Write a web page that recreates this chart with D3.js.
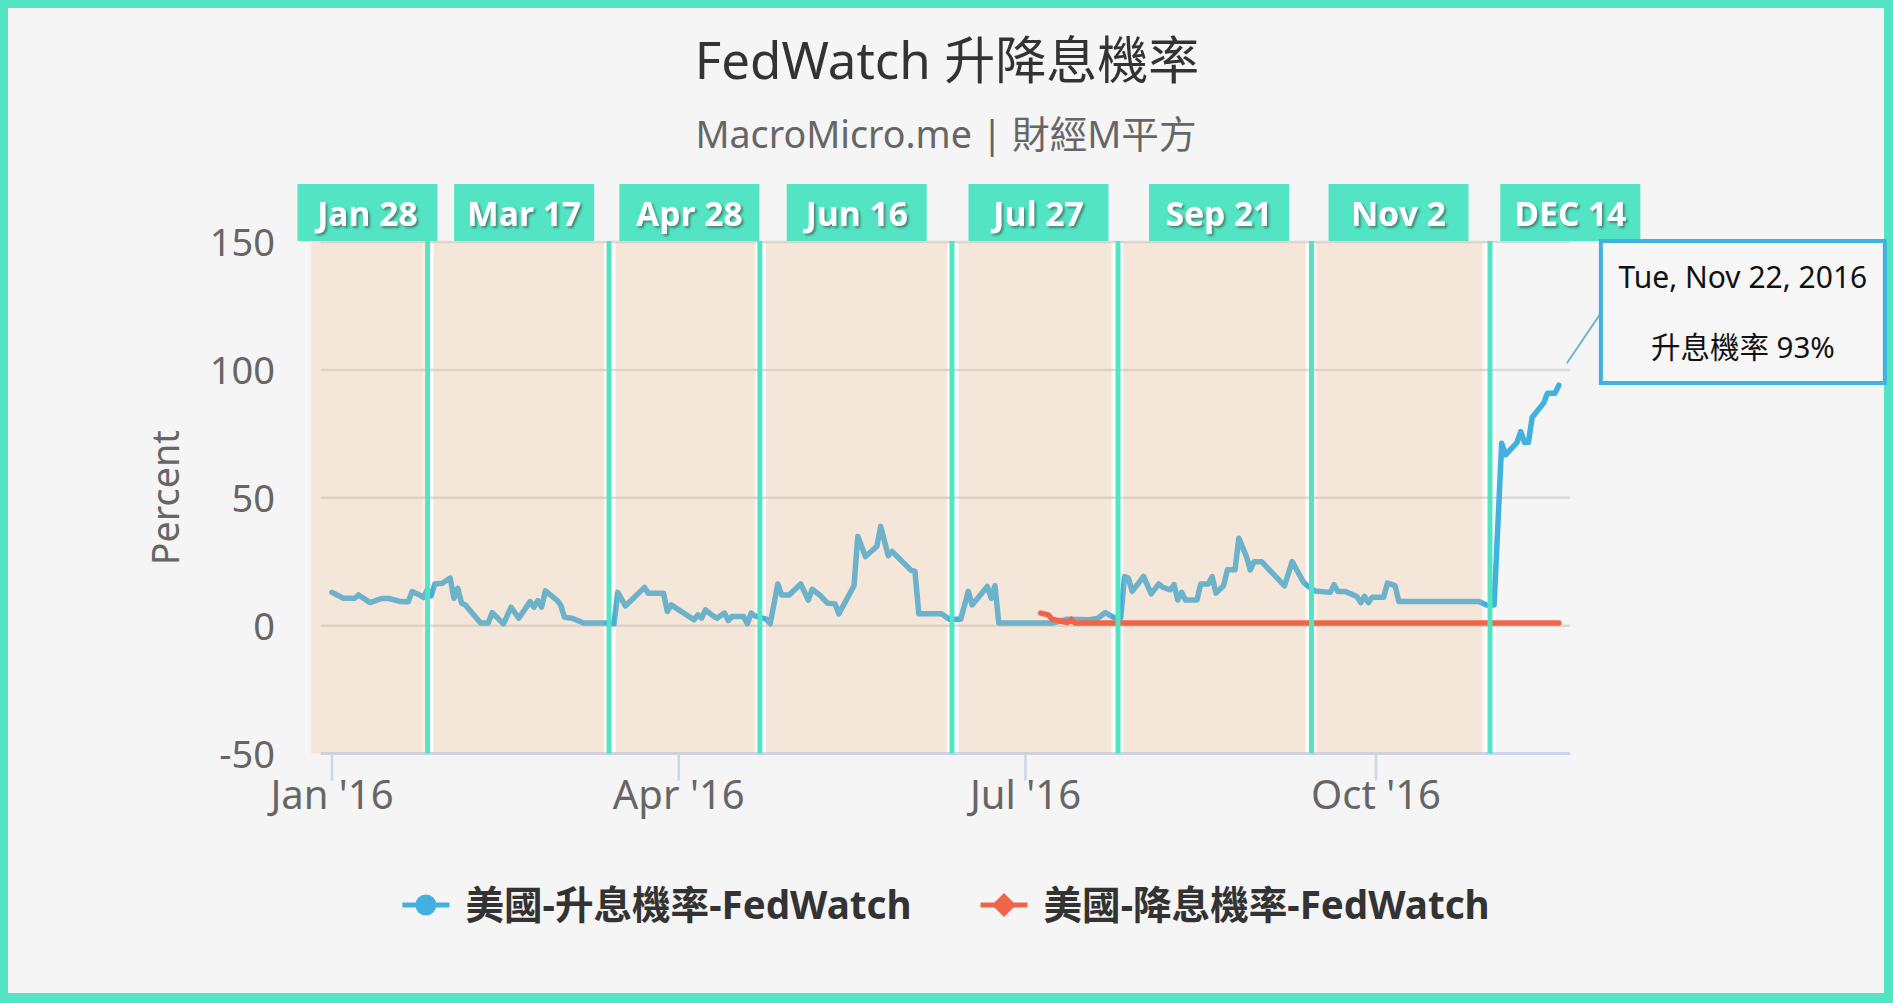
<!DOCTYPE html>
<html><head><meta charset="utf-8">
<script src="https://cdn.jsdelivr.net/npm/d3@7"></script>
<style>
html,body{margin:0;padding:0;background:#f5f5f5;overflow:hidden;}
svg{display:block;}
</style></head>
<body>
<svg id="chart" width="1893" height="1003"></svg>
<script>
// ---------------- DATA ----------------
const titleText = "FedWatch 升降息機率";
const subtitleText = "MacroMicro.me | 財經M平方";
const yAxisTitle = "Percent";

const upDates = [
 "2016-01-01","2016-01-04","2016-01-07","2016-01-08","2016-01-11","2016-01-14","2016-01-16","2016-01-19","2016-01-21","2016-01-22","2016-01-24","2016-01-25","2016-01-26","2016-01-27","2016-01-28","2016-01-30",
 "2016-02-01","2016-02-02","2016-02-03","2016-02-04","2016-02-05","2016-02-09","2016-02-11","2016-02-12","2016-02-15","2016-02-17","2016-02-19","2016-02-22","2016-02-23","2016-02-24","2016-02-25","2016-02-26","2016-02-29",
 "2016-03-01","2016-03-02","2016-03-04","2016-03-07","2016-03-13","2016-03-15","2016-03-16","2016-03-18","2016-03-23","2016-03-24","2016-03-28","2016-03-29","2016-03-30",
 "2016-04-05","2016-04-06","2016-04-07","2016-04-08","2016-04-10","2016-04-11","2016-04-13","2016-04-14","2016-04-15","2016-04-18","2016-04-19","2016-04-20","2016-04-21","2016-04-24","2016-04-25","2016-04-27","2016-04-28","2016-04-30",
 "2016-05-03","2016-05-05","2016-05-06","2016-05-08","2016-05-10","2016-05-12","2016-05-13","2016-05-17","2016-05-18","2016-05-20","2016-05-23","2016-05-24","2016-05-26","2016-05-27",
 "2016-06-01","2016-06-02","2016-06-03","2016-06-09","2016-06-11","2016-06-14","2016-06-16","2016-06-17","2016-06-21","2016-06-22","2016-06-23","2016-06-24",
 "2016-07-08","2016-07-12","2016-07-18","2016-07-20","2016-07-22","2016-07-24","2016-07-26","2016-07-27","2016-07-28","2016-07-29",
 "2016-08-01","2016-08-03","2016-08-05","2016-08-06","2016-08-08","2016-08-09","2016-08-10","2016-08-11","2016-08-12","2016-08-15","2016-08-16","2016-08-18","2016-08-19","2016-08-20","2016-08-22","2016-08-23","2016-08-25","2016-08-26","2016-08-28","2016-08-29","2016-08-30",
 "2016-09-01","2016-09-03","2016-09-07","2016-09-09","2016-09-12","2016-09-13","2016-09-15","2016-09-19","2016-09-20","2016-09-21","2016-09-23","2016-09-26","2016-09-27","2016-09-28","2016-09-29","2016-09-30",
 "2016-10-03","2016-10-04","2016-10-06","2016-10-07","2016-10-28","2016-10-30",
 "2016-11-01","2016-11-03","2016-11-04","2016-11-07","2016-11-08","2016-11-09","2016-11-10","2016-11-11","2016-11-14","2016-11-15","2016-11-17","2016-11-18"
];
const upValues = [
 13,10.7,10.7,12,9,10.6,10.6,9.4,9.3,13.3,12,11,14,11.6,16.3,16.6,
 18.6,10.7,14.6,8.8,8.1,1,1,5.1,0.7,7.2,2.9,9.4,7.2,9.8,7.2,13.6,10,
 8.1,3.3,2.9,1,1,0.7,13,7.7,14.9,12.7,12.7,5.5,8.1,
 2.3,4.2,2.9,6.2,3.8,2.9,4.9,2,3.6,3.6,0.7,4.9,3.8,2.5,0.7,16.3,12,12,
 16.3,10,14.2,12,8.8,8.5,4.6,15.6,34.9,27,31,38.8,27.3,29,
 21.6,21.2,4.6,4.6,2.5,2.5,13.4,8.1,15.3,10.7,15.6,1,
 1,2.5,2.3,2.9,5.1,3.3,2.9,19.2,18.6,13.4,
 19.2,12.4,16.3,15,14,16,10,13,10,10,16.3,16.3,19.2,12.7,15.6,21.8,21.8,34.2,27,21.8,25,
 25,21.8,15.6,25,16.9,15.6,13.5,13,16,13.3,13.3,11.4,9,11.4,9,11.1,
 11.1,16.6,15.6,9.4,9.4,8.1,
 8.1,71.3,66.8,71.6,75.9,71.6,71.6,81.5,87,90.9,90.9,94
];

const downDates = ["2016-07-05","2016-07-07","2016-07-08","2016-07-12","2016-07-13","2016-07-14","2016-08-01","2016-09-01","2016-10-03","2016-11-01","2016-11-18"];
const downValues = [4.9,4.2,2.5,1.2,2.5,1,1,1,1,1,1];

const seriesNames = ["美國-升息機率-FedWatch","美國-降息機率-FedWatch"];

// FOMC annotations
const meetingLabels = ["Jan 28","Mar 17","Apr 28","Jun 16","Jul 27","Sep 21","Nov 2","DEC 14"];
const labelCenterDates = ["2016-01-10T07:00Z","2016-02-20T10:00Z","2016-04-03T19:00Z","2016-05-17T17:00Z","2016-07-04T10:00Z","2016-08-20T19:00Z","2016-10-06T22:00Z","2016-11-21T00:00Z"];
const meetingLineDates = ["2016-01-26T02:00Z","2016-03-13T17:00Z","2016-04-22T07:00Z","2016-06-11T17:00Z","2016-07-25T07:00Z","2016-09-14T02:00Z","2016-10-30T22:00Z"];
const bandStarts = ["2015-12-26T12:00Z","2016-01-27T17:00Z","2016-03-15T12:00Z","2016-04-23T22:00Z","2016-06-13T14:00Z","2016-07-26T14:00Z","2016-09-15T00:00Z"];
const bandEnds   = ["2016-01-25T10:00Z","2016-03-12T12:00Z","2016-04-21T07:00Z","2016-06-10T14:00Z","2016-07-23T12:00Z","2016-09-12T10:00Z","2016-10-28T19:00Z"];

const yTicks = [150,100,50,0,-50];
const xTickDates = ["2016-01-01","2016-04-01","2016-07-01","2016-10-01"];
const xTickLabels = ["Jan '16","Apr '16","Jul '16","Oct '16"];
const xDomain = ["2015-12-29T00:00Z","2016-11-21T00:00Z"];

const tooltipDate = "Tue, Nov 22, 2016";
const tooltipLabel = "升息機率";
const tooltipValue = 93;

// ---------------- STYLE ----------------
const W = 1893, H = 1003;
const teal = "#52e4c3", blue = "#41b1e0", red = "#f0654a";
const latin = "'Noto Sans','Noto Sans CJK TC',sans-serif";

const parseDay = d3.utcParse("%Y-%m-%d");
const svg = d3.select("#chart");

// background + border
svg.append("rect").attr("width",W).attr("height",H).attr("fill",teal);
svg.append("rect").attr("x",8).attr("y",8).attr("width",W-17).attr("height",H-18).attr("fill","#f5f5f5");

const defs = svg.append("defs");
const f = defs.append("filter").attr("id","shadow").attr("x","-20%").attr("y","-20%").attr("width","140%").attr("height","140%");
f.append("feDropShadow").attr("dx",2).attr("dy",2).attr("stdDeviation",1).attr("flood-color","#3a3a3a").attr("flood-opacity",0.55);

// scales
const x = d3.scaleUtc().domain(xDomain.map(d=>d3.isoParse(d))).range([320.6,1570.3]);
const y = d3.scaleLinear().domain([-50,150]).range([753.5,242]);
const plotL = x.range()[0], plotR = x.range()[1];

// title
svg.append("text").attr("x",947).attr("y",79).attr("text-anchor","middle")
  .attr("font-family",latin).attr("font-size",51).attr("fill","#333").text(titleText);
svg.append("text").attr("x",946).attr("y",148).attr("text-anchor","middle")
  .attr("font-family",latin).attr("font-size",37.6).attr("fill","#666").text(subtitleText);

// white strips behind meeting lines
const lineDates = meetingLineDates.map(d=>d3.isoParse(d));
svg.append("g").selectAll("line").data(lineDates).join("line")
  .attr("x1",d=>x(d)).attr("x2",d=>x(d)).attr("y1",y(150)).attr("y2",y(-50))
  .attr("stroke","#ffffff").attr("stroke-width",11);

// gridlines
svg.append("g").selectAll("line").data(yTicks).join("line")
  .attr("x1",plotL).attr("x2",plotR).attr("y1",d=>y(d)).attr("y2",d=>y(d))
  .attr("stroke",d=>d===-50?"#ccd6eb":"#dadada").attr("stroke-width",d=>d===-50?3:2.5);

// x ticks
const xt = xTickDates.map(parseDay);
svg.append("g").selectAll("line").data(xt).join("line")
  .attr("x1",d=>x(d)).attr("x2",d=>x(d)).attr("y1",y(-50)).attr("y2",y(-50)+27)
  .attr("stroke","#ccd6eb").attr("stroke-width",2.5);
svg.append("g").selectAll("text").data(xt).join("text")
  .attr("x",d=>x(d)).attr("y",809).attr("text-anchor","middle")
  .attr("font-family",latin).attr("font-size",40).attr("fill","#666")
  .text((d,i)=>xTickLabels[i]);

// y labels
svg.append("g").selectAll("text").data(yTicks).join("text")
  .attr("x",275).attr("y",d=>y(d)+14).attr("text-anchor","end")
  .attr("font-family",latin).attr("font-size",38).attr("fill","#666").text(d=>d);
svg.append("text").attr("transform",`translate(179,${(y(150)+y(-50))/2}) rotate(-90)`)
  .attr("text-anchor","middle").attr("font-family",latin).attr("font-size",37.7).attr("fill","#666").text(yAxisTitle);

// blue line (under bands)
const upData = upDates.map((d,i)=>({d:parseDay(d),v:upValues[i]}));
const downData = downDates.map((d,i)=>({d:parseDay(d),v:downValues[i]}));
const lineGen = d3.line().x(p=>x(p.d)).y(p=>y(p.v));
svg.append("path").datum(upData).attr("d",lineGen).attr("fill","none")
  .attr("stroke",blue).attr("stroke-width",5.5).attr("stroke-linejoin","round").attr("stroke-linecap","round");

// bands overlay
svg.append("g").selectAll("rect").data(bandStarts.map((s,i)=>[d3.isoParse(s),d3.isoParse(bandEnds[i])])).join("rect")
  .attr("x",d=>x(d[0])).attr("width",d=>x(d[1])-x(d[0]))
  .attr("y",y(150)).attr("height",y(-50)-y(150))
  .attr("fill","rgb(245,180,128)").attr("fill-opacity",0.23);

// red line
svg.append("path").datum(downData).attr("d",lineGen).attr("fill","none")
  .attr("stroke",red).attr("stroke-width",5.5).attr("stroke-linejoin","round").attr("stroke-linecap","round");

// meeting lines
svg.append("g").selectAll("line").data(lineDates).join("line")
  .attr("x1",d=>x(d)).attr("x2",d=>x(d)).attr("y1",y(150)-1).attr("y2",y(-50))
  .attr("stroke",teal).attr("stroke-width",5);

// meeting labels
const lg = svg.append("g").selectAll("g").data(meetingLabels).join("g")
  .attr("transform",(d,i)=>`translate(${x(d3.isoParse(labelCenterDates[i]))},0)`);
lg.append("rect").attr("x",-70).attr("width",140).attr("y",184).attr("height",y(150)-185).attr("fill",teal);
lg.append("text").attr("y",226).attr("text-anchor","middle")
  .attr("font-family","'Open Sans',sans-serif").attr("font-weight",700).attr("font-size",33.5)
  .attr("fill","#fff").attr("filter","url(#shadow)").text(d=>d);

// tooltip
const last = upData[upData.length-1];
const lx = x(last.d), ly = y(last.v);
const bx = lx + 42, by = y(150) - 1, bw = 284, bh = 142;
svg.append("line").attr("x1",lx+8).attr("y1",ly-22).attr("x2",bx).attr("y2",by+72)
  .attr("stroke","#6ab6d2").attr("stroke-width",2);
svg.append("rect").attr("x",bx).attr("y",by).attr("width",bw).attr("height",bh)
  .attr("fill","#f6f6f6").attr("stroke",blue).attr("stroke-width",4);
svg.append("text").attr("x",bx+bw/2).attr("y",by+47).attr("text-anchor","middle")
  .attr("font-family",latin).attr("font-size",30).attr("fill","#111").text(tooltipDate);
svg.append("text").attr("x",bx+bw/2).attr("y",by+117).attr("text-anchor","middle")
  .attr("font-family",latin).attr("font-size",29.5).attr("fill","#111").text(`${tooltipLabel} ${tooltipValue}%`);

// legend
const legY = 905;
const leg = svg.append("g");
const colors = [blue, red];
const items = leg.selectAll("g").data(seriesNames).join("g");
items.append("text").attr("class","lt").attr("x",63).attr("y",legY+14)
  .attr("font-family",latin).attr("font-weight",700).attr("font-size",38.6).attr("fill","#333").text(d=>d);
let widths = [];
items.each(function(){ widths.push(d3.select(this).select("text").node().getComputedTextLength()+63); });
const gap = 69;
const total = d3.sum(widths) + gap*(widths.length-1);
let cx = 946 - total/2;
items.attr("transform",(d,i)=>{ const t=`translate(${cx},0)`; cx += widths[i]+gap; return t; });
items.append("line").attr("x1",0).attr("x2",47).attr("y1",legY).attr("y2",legY)
  .attr("stroke",(d,i)=>colors[i]).attr("stroke-width",5);
items.filter((d,i)=>i===0).append("circle").attr("cx",23.5).attr("cy",legY).attr("r",10.5).attr("fill",blue);
items.filter((d,i)=>i===1).append("path")
  .attr("d",`M23.5,${legY-12} L35.5,${legY} L23.5,${legY+12} L11.5,${legY} Z`).attr("fill",red);
</script>
</body></html>
